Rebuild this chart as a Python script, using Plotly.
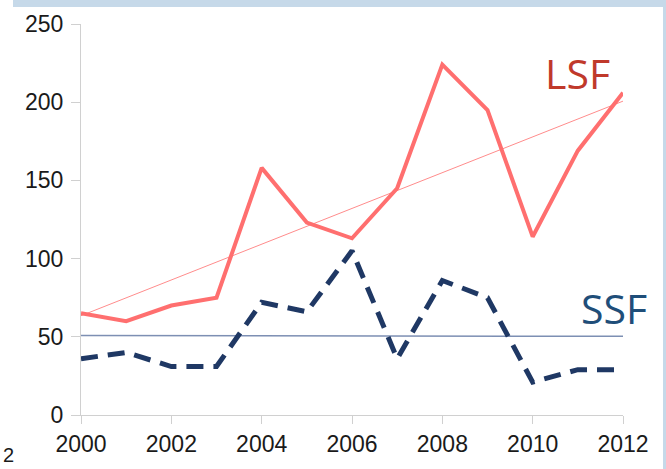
import numpy as np
import plotly.graph_objects as go

years = list(range(2000, 2013))
lsf = [65, 60, 70, 75, 158, 123, 113, 145, 224, 195, 114, 169, 206]
ssf = [36, 40, 31, 31, 72, 66, 105, 36, 86, 75, 21, 29, 29]
y_ticks = [0, 50, 100, 150, 200, 250]
x_ticks = [2000, 2002, 2004, 2006, 2008, 2010, 2012]

W, H = 666, 469
L, R, T, B = 81, 43, 24, 54
pw, ph = W - L - R, H - T - B

def px2paper(x, y):
    return (x - L) / pw, (H - B - y) / ph

def trend(xs, ys):
    a, b = np.polyfit(xs, ys, 1)
    return [a * x + b for x in xs]

fig = go.Figure()
fig.add_trace(go.Scatter(x=years, y=trend(years, lsf), mode="lines",
                         line=dict(color="#ff8c8c", width=1), hoverinfo="skip"))
fig.add_trace(go.Scatter(x=years, y=trend(years, ssf), mode="lines",
                         line=dict(color="#7d8fb3", width=1.5), hoverinfo="skip"))
fig.add_trace(go.Scatter(x=years, y=lsf, mode="lines",
                         line=dict(color="#ff6f6f", width=4)))
fig.add_trace(go.Scatter(x=years, y=ssf, mode="lines",
                         line=dict(color="#1f3864", width=5, dash="17px,10px")))

tickfont = dict(family="Liberation Sans, Arial", size=23, color="#1a1a1a")
fig.update_xaxes(range=[2000, 2012], tickvals=x_ticks, showgrid=False, zeroline=False,
                 showline=True, linecolor="#d0d0d0", linewidth=1,
                 ticks="outside", ticklen=8, tickcolor="#d0d0d0", tickfont=tickfont)
fig.update_yaxes(range=[0, 250], tickvals=y_ticks, showgrid=False, zeroline=False,
                 showline=True, linecolor="#d0d0d0", linewidth=1,
                 ticks="outside", ticklen=9, tickcolor="#d0d0d0", tickfont=tickfont,
                 ticklabelstandoff=3)

ax, ay = px2paper(577, 73)
bx, by = px2paper(614, 308)
cx, cy = px2paper(1, 455)
annotations = [
    dict(x=ax, y=ay, xref="paper", yref="paper", text="LSF", showarrow=False,
         xanchor="center", yanchor="middle",
         font=dict(family="Open Sans", size=41, color="#c0392b")),
    dict(x=bx, y=by, xref="paper", yref="paper", text="SSF", showarrow=False,
         xanchor="center", yanchor="middle",
         font=dict(family="Open Sans", size=41, color="#1f4e79")),
    dict(x=cx, y=cy, xref="paper", yref="paper", text="2", showarrow=False,
         xanchor="left", yanchor="middle",
         font=dict(family="Liberation Sans, Arial", size=20, color="#1a1a1a")),
]

x0, _ = px2paper(13, 0)
x1, _ = px2paper(666, 0)
_, yt0 = px2paper(0, 0)
_, yt1 = px2paper(0, 7)
xr0, _ = px2paper(663, 0)
_, yb = px2paper(0, 469)
shapes = [
    dict(type="rect", xref="paper", yref="paper", x0=x0, x1=x1, y0=yt1, y1=yt0 + 0.01,
         fillcolor="#c6d9e9", line=dict(width=0), layer="below"),
    dict(type="rect", xref="paper", yref="paper", x0=xr0, x1=x1 + 0.01, y0=yb - 0.01, y1=yt0 + 0.01,
         fillcolor="#c6d9e9", line=dict(width=0), layer="below"),
]

fig.update_layout(width=W, height=H, margin=dict(l=L, r=R, t=T, b=B),
                  showlegend=False, plot_bgcolor="white", paper_bgcolor="white",
                  annotations=annotations, shapes=shapes)
fig.write_html("out.html")
